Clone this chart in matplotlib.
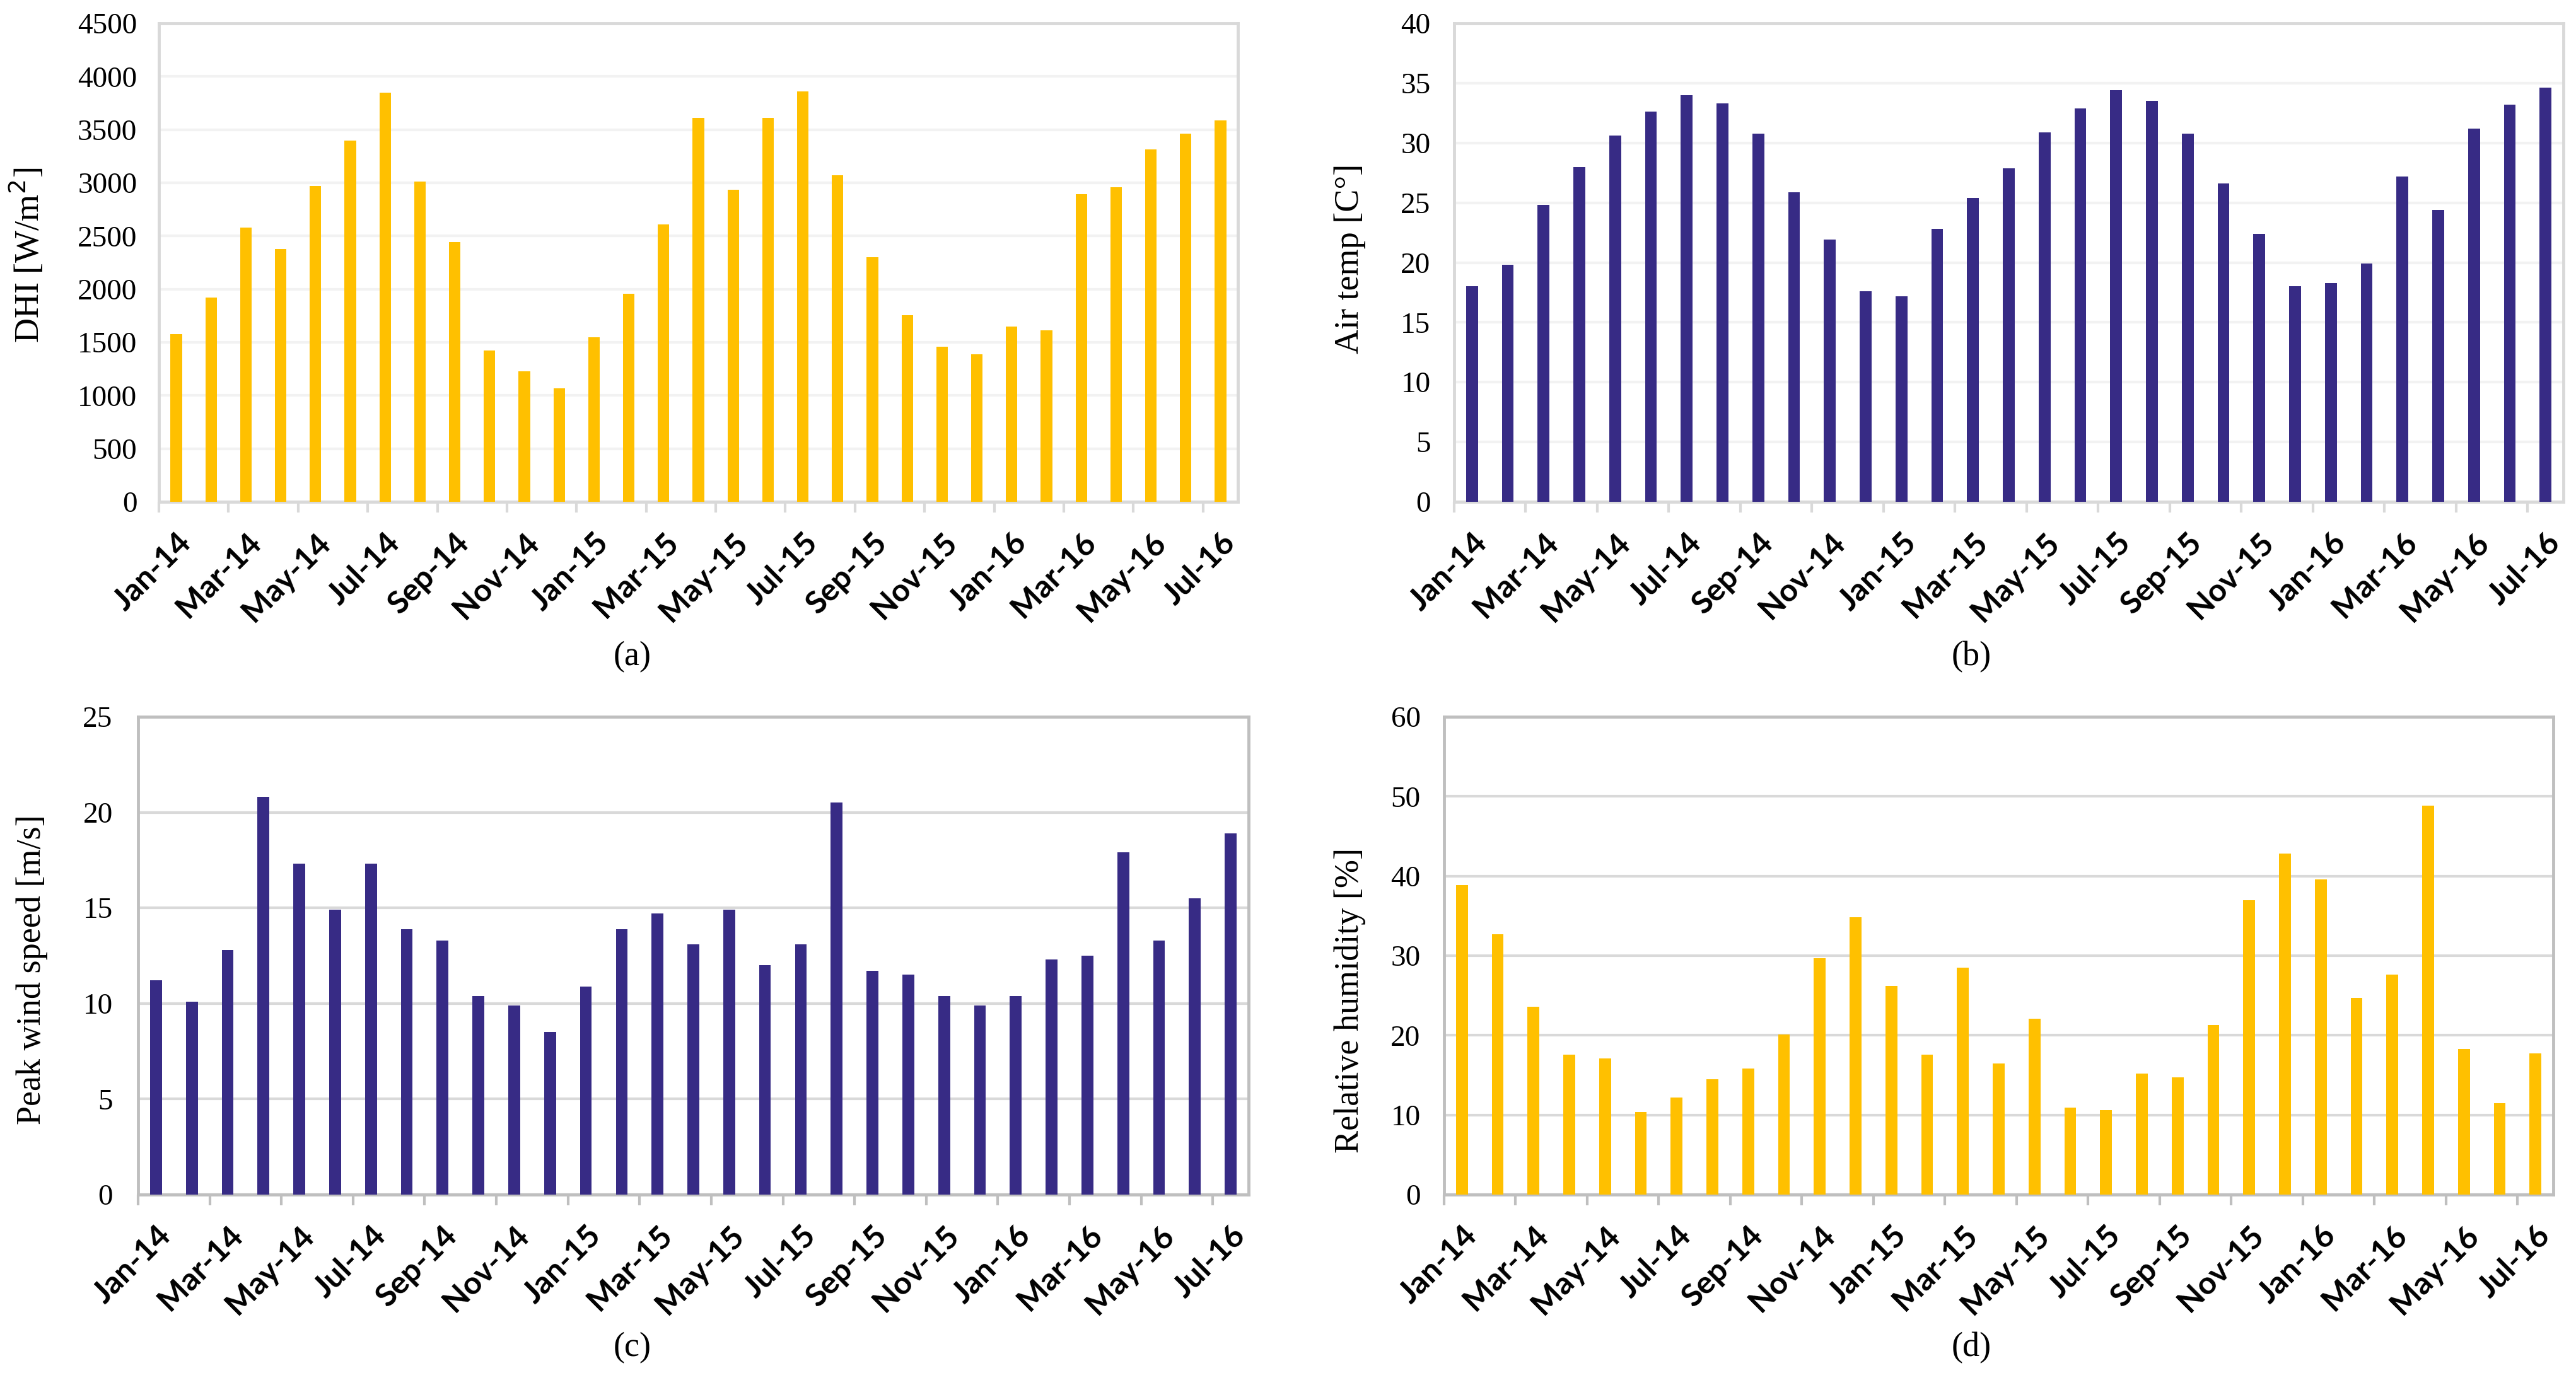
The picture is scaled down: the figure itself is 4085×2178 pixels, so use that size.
import numpy as np
import matplotlib.pyplot as plt

# monthly values, Jan-14 .. Jul-16
months = ["Jan-14", "Feb-14", "Mar-14", "Apr-14", "May-14", "Jun-14", "Jul-14", "Aug-14",
          "Sep-14", "Oct-14", "Nov-14", "Dec-14", "Jan-15", "Feb-15", "Mar-15", "Apr-15",
          "May-15", "Jun-15", "Jul-15", "Aug-15", "Sep-15", "Oct-15", "Nov-15", "Dec-15",
          "Jan-16", "Feb-16", "Mar-16", "Apr-16", "May-16", "Jun-16", "Jul-16"]
dhi = [1575, 1920, 2580, 2380, 2970, 3400, 3845, 3010, 2440, 1425, 1230, 1070, 1550, 1955,
       2610, 3610, 2935, 3610, 3860, 3070, 2300, 1755, 1460, 1385, 1650, 1615, 2895, 2960,
       3315, 3460, 3585]
air_temp = [18.0, 19.8, 24.8, 28.0, 30.6, 32.6, 34.0, 33.3, 30.8, 25.9, 21.9, 17.6, 17.2,
            22.8, 25.4, 27.9, 30.9, 32.9, 34.4, 33.5, 30.8, 26.6, 22.4, 18.0, 18.3, 19.9,
            27.2, 24.4, 31.2, 33.2, 34.6]
wind_peak = [11.2, 10.1, 12.8, 20.8, 17.3, 14.9, 17.3, 13.9, 13.3, 10.4, 9.9, 8.5, 10.9,
             13.9, 14.7, 13.1, 14.9, 12.0, 13.1, 20.5, 11.7, 11.5, 10.4, 9.9, 10.4, 12.3,
             12.5, 17.9, 13.3, 15.5, 18.9]
humidity = [38.9, 32.7, 23.6, 17.6, 17.1, 10.4, 12.2, 14.5, 15.8, 20.1, 29.7, 34.8, 26.2,
            17.6, 28.5, 16.5, 22.1, 10.9, 10.6, 15.2, 14.7, 21.3, 37.0, 42.8, 39.6, 24.7,
            27.6, 48.8, 18.3, 11.5, 17.7]

YELLOW = "#FFC000"
NAVY = "#372B85"

W, H = 4085, 2178
fig = plt.figure(figsize=(W / 100, H / 100), dpi=100)


def px_axes(x0, y0, x1, y1):
    return fig.add_axes([x0 / W, 1 - y1 / H, (x1 - x0) / W, (y1 - y0) / H])


def panel(rect, vals, color, ymax, ystep, ylabel, lab_px, spine_c, grid_c, ypad):
    ax = px_axes(*rect)
    x = np.arange(len(vals))
    ax.bar(x, vals, width=0.33, color=color, zorder=3)
    ax.set_xlim(-0.5, len(vals) - 0.5)
    ax.set_ylim(0, ymax)
    ax.set_yticks(np.arange(0, ymax + ystep / 2, ystep))
    for t in ax.get_yticklabels():
        t.set_fontfamily("Liberation Serif")
        t.set_fontsize(34)
    ax.tick_params(axis="y", length=0, pad=ypad)
    ax.yaxis.grid(True, color=grid_c, lw=3, zorder=0)
    ax.set_axisbelow(True)
    for s in ax.spines.values():
        s.set_color(spine_c)
        s.set_linewidth(3.5)
    ax.set_xticks(x[::2])
    ax.set_xticklabels(months[::2], rotation=45, ha="right", va="top",
                       rotation_mode="anchor", fontfamily="Lato", fontsize=36,
                       fontweight="bold")
    ax.tick_params(axis="x", which="major", length=0, pad=30)
    ax.set_xticks(x[::2] - 0.5, minor=True)
    ax.tick_params(axis="x", which="minor", length=12, width=3, color=spine_c, direction="out")
    # y label placed by its centre, in pixels
    fig.text(lab_px[0] / W, 1 - lab_px[1] / H, ylabel, rotation=90, rotation_mode="anchor",
             ha="center", va="center", fontfamily="Liberation Serif", fontsize=39)
    return ax


panel((252, 37, 1963, 796), dhi, YELLOW, 4500, 500, "DHI [W/m$^2$]",
      (44, 405), "#D9D9D9", "#F2F2F2", 25)
panel((2306, 37, 4065, 796), air_temp, NAVY, 40, 5, "Air temp [C°]",
      (2141, 410), "#D9D9D9", "#F2F2F2", 27)
panel((219, 1137, 1980, 1895), wind_peak, NAVY, 25, 5, "Peak wind speed [m/s]",
      (51, 1538), "#BFBFBF", "#D9D9D9", 29)
panel((2290, 1137, 4049, 1895), humidity, YELLOW, 60, 10, "Relative humidity [%]",
      (2141, 1587), "#BFBFBF", "#D9D9D9", 27)

for lab, cx, cy in [("(a)", 1003, 1042), ("(b)", 3126, 1042),
                    ("(c)", 1003, 2138), ("(d)", 3126, 2138)]:
    fig.text(cx / W, 1 - cy / H, lab, ha="center", va="center",
             fontfamily="Liberation Serif", fontsize=39)

fig.savefig("out.png", dpi=100)
